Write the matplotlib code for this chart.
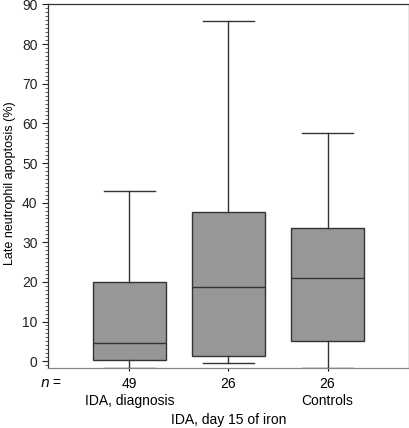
import matplotlib
matplotlib.use("Agg")
import matplotlib.pyplot as plt
from matplotlib.ticker import MultipleLocator

plt.rcParams['font.family'] = ['Liberation Sans', 'DejaVu Sans']

groups = ["IDA, diagnosis", "IDA, day 15 of iron", "Controls"]
n_counts = ["49", "26", "26"]
whisker_low = [-1.6, -0.4, -1.8]
q1 = [0.3, 1.3, 5.1]
median = [4.6, 18.6, 21.0]
q3 = [20.0, 37.7, 33.6]
whisker_high = [42.9, 85.9, 57.5]

stats = []
for i in range(len(groups)):
    stats.append({
        "label": n_counts[i],
        "whislo": whisker_low[i],
        "q1": q1[i],
        "med": median[i],
        "q3": q3[i],
        "whishi": whisker_high[i],
    })

fig = plt.figure(figsize=(4.1, 4.28), dpi=100)
ax = fig.add_axes([0.117, 0.1395, 0.8806, 0.85])

edge = "#333333"
ax.bxp(stats, positions=[1, 2, 3], widths=0.737, showfliers=False,
       patch_artist=True,
       boxprops=dict(facecolor="#979797", edgecolor=edge, linewidth=1.0),
       medianprops=dict(color=edge, linewidth=1.0),
       whiskerprops=dict(color=edge, linewidth=1.0),
       capprops=dict(color=edge, linewidth=1.0),
       capwidths=0.52)

ax.set_xlim(0.177, 3.823)
ax.set_ylim(-1.8, 90)
ax.yaxis.set_major_locator(MultipleLocator(10))
ax.yaxis.set_minor_locator(MultipleLocator(1))
ax.tick_params(axis="y", which="major", length=4, width=0.8, labelsize=10, colors="#222222")
ax.tick_params(axis="y", which="minor", length=2.5, width=0.6, colors="#444444")
ax.tick_params(axis="x", length=2, labelsize=10, pad=4)
ax.set_xticks([1, 2, 3])
ax.set_xticklabels(n_counts)
for s in ax.spines.values():
    s.set_color("#333333")
    s.set_linewidth(0.9)
ax.spines["bottom"].set_color("#888888")

ax.set_ylabel("Late neutrophil apoptosis (%)", fontsize=9)
ax.yaxis.set_label_coords(-0.088, 0.509)

# n = label and group names under the n counts
fig.text(40 / 410, 1 - 383 / 428, "$n$ =", fontsize=10, va="center", ha="left")
fig.text(130 / 410, 1 - 401 / 428, groups[0], fontsize=10, ha="center", va="center")
fig.text(228.5 / 410, 1 - 420 / 428, groups[1], fontsize=10, ha="center", va="center")
fig.text(327.5 / 410, 1 - 401 / 428, groups[2], fontsize=10, ha="center", va="center")

fig.savefig("out.png", dpi=100)
